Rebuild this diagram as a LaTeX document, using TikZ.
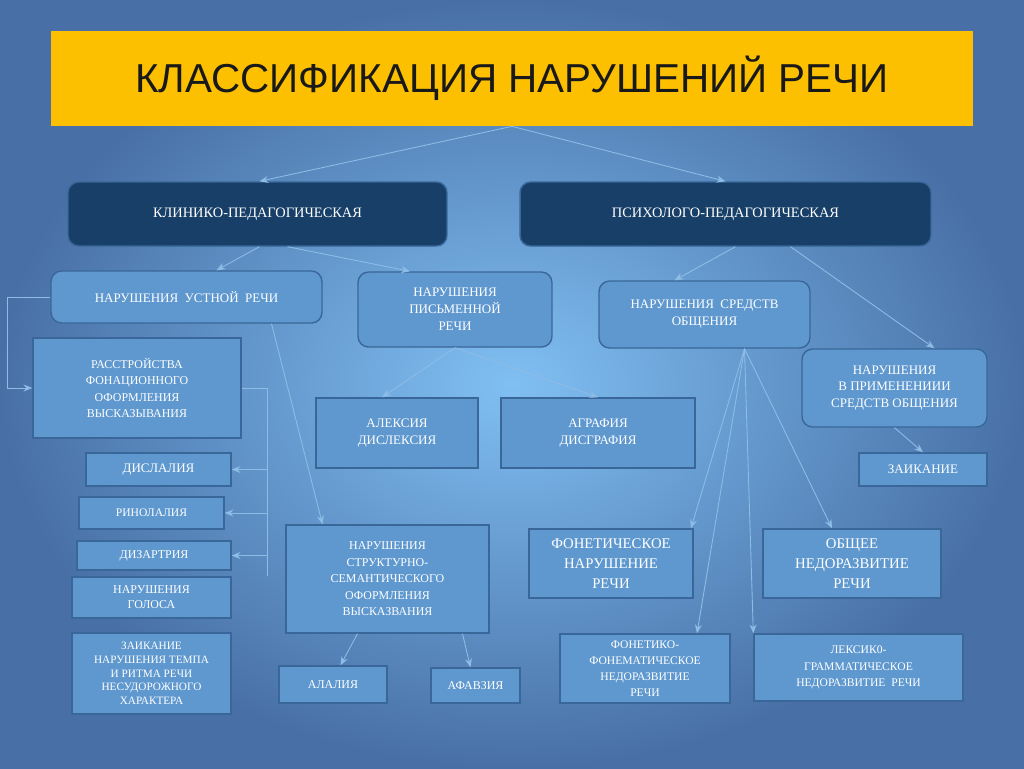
\documentclass[tikz,border=0pt]{standalone}
\usepackage{fontspec}
\setmainfont{Liberation Serif}
\newfontfamily\titlefont{Liberation Sans}
\usetikzlibrary{arrows.meta}
\definecolor{boxfill}{HTML}{5E98CF}
\definecolor{boxline}{HTML}{3A6799}
\definecolor{darkbox}{HTML}{173F68}
\definecolor{wire}{HTML}{8DBCE6}
\definecolor{bgin}{HTML}{80BFF2}
\definecolor{bgout}{HTML}{4870A6}
\definecolor{gold}{HTML}{FCC000}
\tikzset{
  box/.style={draw=boxline,fill=boxfill,line width=0.8pt,text=white,align=center,
    inner sep=0pt,font=\fontsize{7.4}{9.6}\selectfont},
  rbox/.style={box,rounded corners=6pt},
  dbox/.style={rbox,fill=darkbox,draw=boxline,font=\fontsize{8.2}{10}\selectfont},
  line/.style={draw=wire,line width=0.5pt},
  wire/.style={line,-{Stealth[length=5pt,width=4pt]}},
}
\begin{document}
\begin{tikzpicture}[x=0.02cm,y=-0.02cm]
  % Background
  \shade[inner color=bgin,outer color=bgout] (0,0) rectangle (1024,768);
  \useasboundingbox (0,0) rectangle (1024,768);
  %
  % Title
  \node[fill=gold,minimum width=18.44cm,minimum height=1.9cm,
    font=\titlefont\fontsize{23}{26}\selectfont,text=black!90] (title) at (512,78.5)
    {КЛАССИФИКАЦИЯ НАРУШЕНИЙ РЕЧИ};
  %
  % Two approaches
  \node[dbox,minimum width=7.58cm,minimum height=1.28cm] (klin) at (257.5,214) {КЛИНИКО-ПЕДАГОГИЧЕСКАЯ};
  \node[dbox,minimum width=8.22cm,minimum height=1.28cm] (psych) at (725.5,214) {ПСИХОЛОГО-ПЕДАГОГИЧЕСКАЯ};
  %
  % Second level
  \node[rbox,minimum width=5.42cm,minimum height=1.04cm] (ustn) at (186.5,297) {НАРУШЕНИЯ\ \ УСТНОЙ\ \ РЕЧИ};
  \node[rbox,minimum width=3.88cm,minimum height=1.5cm] (pism) at (455,309.5) {НАРУШЕНИЯ\\ПИСЬМЕННОЙ\\РЕЧИ};
  \node[rbox,minimum width=4.22cm,minimum height=1.34cm] (sredstv) at (704.5,314.5) {НАРУШЕНИЯ\ \ СРЕДСТВ\\ОБЩЕНИЯ};
  \node[rbox,minimum width=3.7cm,minimum height=1.56cm] (primen) at (894.5,388) {НАРУШЕНИЯ\\В ПРИМЕНЕНИИИ\\СРЕДСТВ ОБЩЕНИЯ};
  %
  % Oral speech
  \node[box,minimum width=4.16cm,minimum height=2cm,font=\fontsize{6.8}{9.4}\selectfont] (rasstr) at (137,388) {РАССТРОЙСТВА\\ФОНАЦИОННОГО\\ОФОРМЛЕНИЯ\\ВЫСКАЗЫВАНИЯ};
  \node[box,minimum width=2.9cm,minimum height=0.66cm] (dislal) at (158.5,469.5) {ДИСЛАЛИЯ};
  \node[box,minimum width=2.9cm,minimum height=0.64cm,font=\fontsize{6.6}{8}\selectfont] (rinol) at (151.5,513) {РИНОЛАЛИЯ};
  \node[box,minimum width=3.08cm,minimum height=0.58cm,font=\fontsize{6.8}{8}\selectfont] (dizart) at (154,555.5) {ДИЗАРТРИЯ};
  \node[box,minimum width=3.18cm,minimum height=0.82cm,font=\fontsize{6.8}{8.6}\selectfont] (golos) at (151.5,597.5) {НАРУШЕНИЯ\\ГОЛОСА};
  \node[box,minimum width=3.18cm,minimum height=1.62cm,font=\fontsize{6.4}{7.8}\selectfont] (zaik1) at (151.5,673.5) {ЗАИКАНИЕ\\НАРУШЕНИЯ ТЕМПА\\И РИТМА РЕЧИ\\НЕСУДОРОЖНОГО\\ХАРАКТЕРА};
  \node[box,minimum width=4.06cm,minimum height=2.16cm,font=\fontsize{6.8}{9.4}\selectfont] (strukt) at (387.5,579) {НАРУШЕНИЯ\\СТРУКТУРНО-\\СЕМАНТИЧЕСКОГО\\ОФОРМЛЕНИЯ\\ВЫСКАЗВАНИЯ};
  \node[box,minimum width=2.16cm,minimum height=0.74cm,font=\fontsize{6.8}{8}\selectfont] (alal) at (333,684.5) {АЛАЛИЯ};
  \node[box,minimum width=1.78cm,minimum height=0.7cm,font=\fontsize{6.8}{8}\selectfont] (afaz) at (475.5,685.5) {АФАВЗИЯ};
  %
  % Written speech
  \node[box,minimum width=3.24cm,minimum height=1.4cm] (aleks) at (397,433) {АЛЕКСИЯ\\ДИСЛЕКСИЯ};
  \node[box,minimum width=3.88cm,minimum height=1.4cm] (agraf) at (598,433) {АГРАФИЯ\\ДИСГРАФИЯ};
  %
  % Means of communication
  \node[box,minimum width=2.56cm,minimum height=0.66cm] (zaik2) at (923,469.5) {ЗАИКАНИЕ};
  \node[box,minimum width=3.28cm,minimum height=1.38cm,font=\fontsize{8.4}{11.6}\selectfont] (fonet) at (611,563.5) {ФОНЕТИЧЕСКОЕ\\НАРУШЕНИЕ\\РЕЧИ};
  \node[box,minimum width=3.56cm,minimum height=1.38cm,font=\fontsize{8.4}{11.6}\selectfont] (obshch) at (852,563.5) {ОБЩЕЕ\\НЕДОРАЗВИТИЕ\\РЕЧИ};
  \node[box,minimum width=3.4cm,minimum height=1.38cm,font=\fontsize{6.6}{9.2}\selectfont] (ffn) at (645,668.5) {ФОНЕТИКО-\\ФОНЕМАТИЧЕСКОЕ\\НЕДОРАЗВИТИЕ\\РЕЧИ};
  \node[box,minimum width=4.18cm,minimum height=1.34cm,font=\fontsize{6.6}{9.2}\selectfont] (leks) at (858.5,667.5) {ЛЕКСИК0-\\ГРАММАТИЧЕСКОЕ\\НЕДОРАЗВИТИЕ\ \ РЕЧИ};
  %
  % Connectors
  \draw[wire] (title.south) -- ([xshift=0.04cm]klin.north);
  \draw[wire] (title.south) -- (psych.north);
  \draw[wire] ([xshift=0.04cm]klin.south) -- ([xshift=0.6cm]ustn.north);
  \draw[wire] ([xshift=0.6cm]klin.south) -- ([xshift=-0.9cm]pism.north);
  \draw[wire] ([xshift=0.2cm]psych.south) -- ([xshift=-0.6cm]sredstv.north);
  \draw[wire] ([xshift=1.3cm]psych.south) -- ([xshift=0.8cm]primen.north);
  \draw[wire] (ustn.west) -- ++(-43,0) |- (rasstr.west);
  \draw[wire] ([xshift=1.7cm]ustn.south) -- ([xshift=-1.3cm]strukt.north);
  \draw[line] (rasstr.east) -- ++(26,0) coordinate (brk) -- (brk |- golos.north east);
  \draw[wire] (brk |- dislal.east) -- (dislal.east);
  \draw[wire] (brk |- rinol.east) -- (rinol.east);
  \draw[wire] (brk |- dizart.east) -- (dizart.east);
  \draw[wire] (pism.south) -- ([xshift=-0.3cm]aleks.north);
  \draw[wire] (pism.south) -- (agraf.north);
  \draw[wire] ([xshift=-0.6cm]strukt.south) -- ([xshift=0.15cm]alal.north);
  \draw[wire] ([xshift=1.5cm]strukt.south) -- ([xshift=-0.1cm]afaz.north);
  \draw[wire] ([xshift=0.8cm]sredstv.south) -- ([xshift=1.6cm]fonet.north);
  \draw[wire] ([xshift=0.8cm]sredstv.south) -- ([xshift=1.04cm]ffn.north);
  \draw[wire] ([xshift=0.8cm]sredstv.south) -- (leks.north west);
  \draw[wire] ([xshift=0.8cm]sredstv.south) -- ([xshift=-0.4cm]obshch.north);
  \draw[wire] (primen.south) -- (zaik2.north);
\end{tikzpicture}
\end{document}
